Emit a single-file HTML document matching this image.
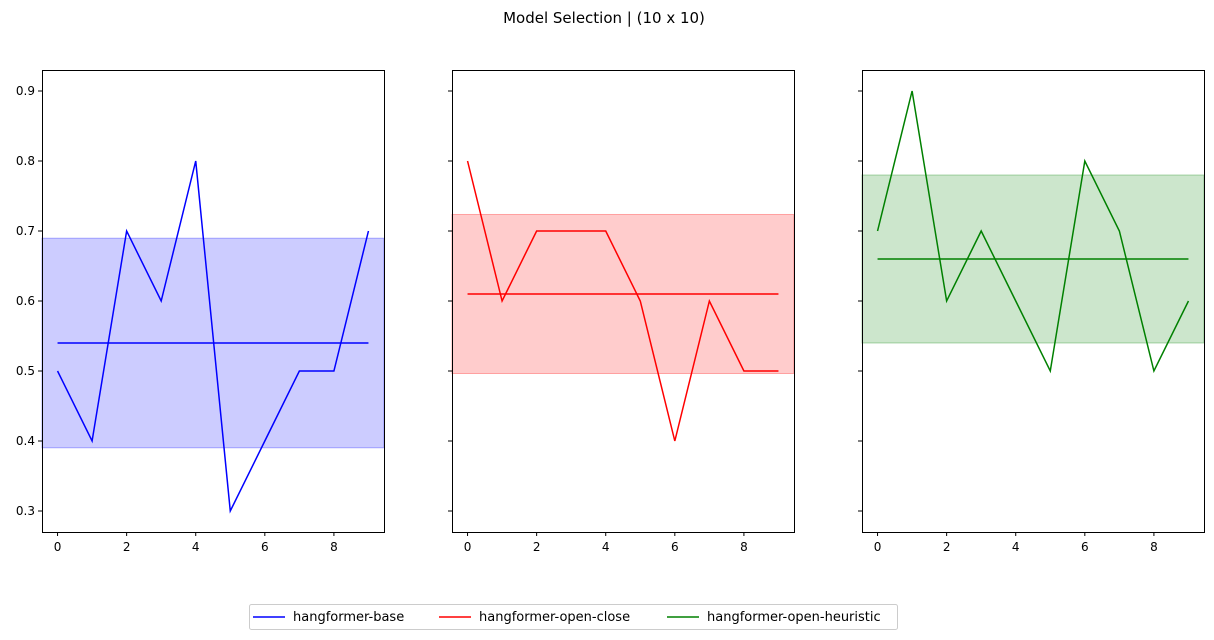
<!DOCTYPE html>
<html><head><meta charset="utf-8"><style>
body{margin:0;background:#fff;}
svg{display:block;font-family:"DejaVu Sans","Liberation Sans",sans-serif;}
</style></head><body>
<svg id="chart" width="1214" height="640" viewBox="0 0 1214 640">
<text x="604" y="23" font-size="15" text-anchor="middle">Model Selection | (10 x 10)</text>
<g id="panels"></g>
<g>
<rect x="249.5" y="604.5" width="648" height="25" rx="2" fill="#fff" stroke="#ccc"/>
<line x1="253" y1="617" x2="285" y2="617" stroke="blue" stroke-width="1.5"/>
<text x="293" y="621" font-size="13">hangformer-base</text>
<line x1="439" y1="617" x2="471" y2="617" stroke="red" stroke-width="1.5"/>
<text x="479" y="621" font-size="13">hangformer-open-close</text>
<line x1="667" y1="617" x2="699" y2="617" stroke="green" stroke-width="1.5"/>
<text x="707" y="621" font-size="13">hangformer-open-heuristic</text>
</g>
</svg>
<script>
const seriesNames = ["hangformer-base","hangformer-open-close","hangformer-open-heuristic"];
const baseValues = [0.5,0.4,0.7,0.6,0.8,0.3,0.4,0.5,0.5,0.7];
const openCloseValues = [0.8,0.6,0.7,0.7,0.7,0.6,0.4,0.6,0.5,0.5];
const openHeuristicValues = [0.7,0.9,0.6,0.7,0.6,0.5,0.8,0.7,0.5,0.6];
const xTicks = [0,2,4,6,8];
const yTicks = [0.3,0.4,0.5,0.6,0.7,0.8,0.9];

const NS="http://www.w3.org/2000/svg";
const g=document.getElementById('panels');
const panelLefts=[42,452,862], W=342, plotTop=70, H=462;
const colors=["blue","red","green"], fills=["rgba(0,0,255,0.2)","rgba(255,0,0,0.2)","rgba(0,128,0,0.2)"];
const allSeries=[baseValues,openCloseValues,openHeuristicValues];
const xmin=-0.45,xmax=9.45,ymin=0.27,ymax=0.93;
function mk(t,a){const e=document.createElementNS(NS,t);for(const k in a)e.setAttribute(k,a[k]);return e;}
allSeries.forEach((vals,i)=>{
  const L=panelLefts[i];
  const xs=v=>L+(v-xmin)/(xmax-xmin)*W;
  const ys=v=>plotTop+(ymax-v)/(ymax-ymin)*H;
  const pg=mk('g',{});
  
  
  const n=vals.length, mean=vals.reduce((a,b)=>a+b,0)/n;
  const sd=Math.sqrt(vals.reduce((a,b)=>a+(b-mean)**2,0)/n);
  const band=mk('rect',{x:L,y:ys(mean+sd),width:W,height:ys(mean-sd)-ys(mean+sd),fill:fills[i],stroke:fills[i].replace('0.2','0.3')});
  
  
  pg.appendChild(band);
  const ml=mk('line',{x1:xs(0),x2:xs(n-1),y1:ys(mean),y2:ys(mean),stroke:colors[i],'stroke-width':1.5});
  
  
  pg.appendChild(ml);
  const pl=mk('polyline',{points:vals.map((v,j)=>xs(j)+','+ys(v)).join(' '),fill:'none',stroke:colors[i],'stroke-width':1.5});
  
  
  pg.appendChild(pl);
  pg.appendChild(mk('rect',{x:L+0.5,y:plotTop+0.5,width:W,height:H,fill:'none',stroke:'#000','stroke-width':1}));
  xTicks.forEach(t=>{
    const x=xs(t);
    pg.appendChild(mk('line',{x1:x,x2:x,y1:plotTop+H,y2:plotTop+H+4,stroke:'#000'}));
    const tx=mk('text',{x:x,y:plotTop+H+19,'font-size':12,'text-anchor':'middle'});tx.textContent=t;
    
    
    pg.appendChild(tx);
  });
  yTicks.forEach(t=>{
    const y=ys(t);
    pg.appendChild(mk('line',{x1:L-4,x2:L,y1:y,y2:y,stroke:'#000'}));
    if(i===0){const tx=mk('text',{x:L-7,y:y+4,'font-size':12,'text-anchor':'end'});tx.textContent=t.toFixed(1);
      
      
      pg.appendChild(tx);}
  });
  g.appendChild(pg);
});
</script>
</body></html>
